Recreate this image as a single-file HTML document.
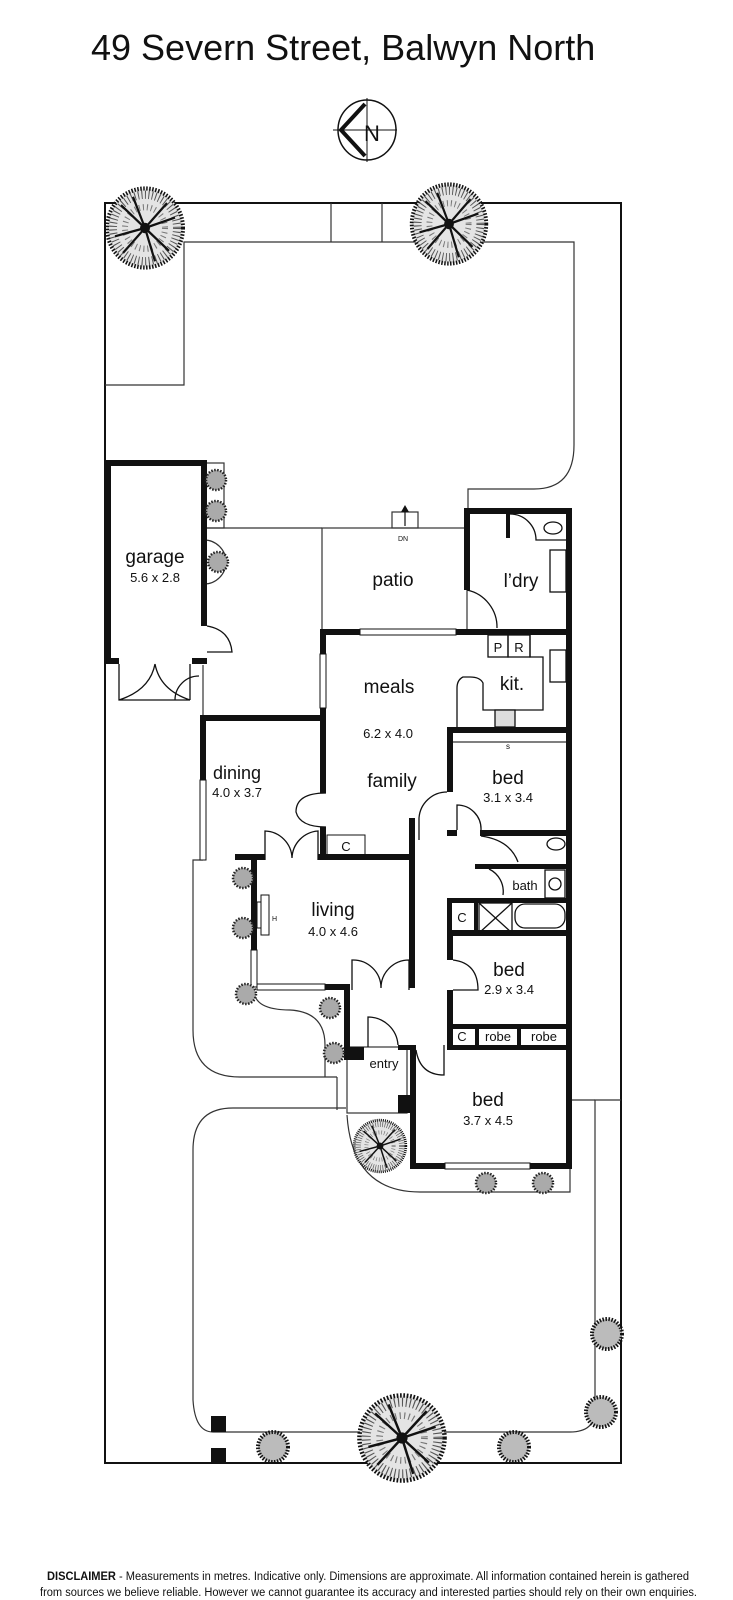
<!DOCTYPE html>
<html><head><meta charset="utf-8"><style>
html,body{margin:0;padding:0;background:#fff;}
svg{display:block;}
text{font-family:"Liberation Sans",Arial,sans-serif;fill:#111;}
</style></head><body>
<svg width="733" height="1600" viewBox="0 0 733 1600" xmlns="http://www.w3.org/2000/svg">
<defs>
<g id="tree">
  <circle r="38" fill="#e4e4e4" stroke="#111" stroke-width="4" stroke-dasharray="1.5 1.5"/>
  <circle r="32" fill="none" stroke="#555" stroke-width="8" stroke-dasharray="1 2.5"/>
  <circle r="20" fill="none" stroke="#777" stroke-width="6" stroke-dasharray="1 3"/>
  <g stroke="#111" stroke-width="2.2">
    <line x1="0" y1="0" x2="30" y2="-10"/><line x1="0" y1="0" x2="-30" y2="8"/>
    <line x1="0" y1="0" x2="10" y2="32"/><line x1="0" y1="0" x2="-12" y2="-30"/>
    <line x1="0" y1="0" x2="24" y2="22"/><line x1="0" y1="0" x2="-24" y2="-22"/>
    <line x1="0" y1="0" x2="-22" y2="24"/><line x1="0" y1="0" x2="22" y2="-24"/>
  </g>
  <circle r="5" fill="#111"/>
</g>
<g id="shrub">
  <circle r="10" fill="#aaa" stroke="#222" stroke-width="2.5" stroke-dasharray="1.5 1.5"/>
</g>
<g id="bush">
  <circle r="15" fill="#bbb" stroke="#111" stroke-width="4" stroke-dasharray="1.5 1.5"/>
</g>
</defs>

<text x="91" y="60" font-size="36">49 Severn Street, Balwyn North</text>

<!-- compass -->
<ellipse cx="367" cy="130" rx="29" ry="30" fill="none" stroke="#111" stroke-width="1.5"/>
<line x1="333" y1="130" x2="397" y2="130" stroke="#111" stroke-width="1"/>
<line x1="367" y1="98" x2="367" y2="162" stroke="#111" stroke-width="1"/>
<path d="M365,104 L341,130 L365,156" fill="none" stroke="#111" stroke-width="4"/>
<text x="364" y="141" font-size="22">N</text>

<!-- boundary -->
<rect x="105" y="203" width="516" height="1260" fill="none" stroke="#111" stroke-width="2"/>
<g fill="none" stroke="#333" stroke-width="1.2">
  <line x1="331" y1="203" x2="331" y2="242"/><line x1="382" y1="203" x2="382" y2="242"/>
  <path d="M105,385 L184,385 L184,242 L574,242 L574,445 Q574,489 534,489 L468,489 L468,511"/>
  <line x1="204" y1="528" x2="322" y2="528"/>
  <rect x="204" y="463" width="20" height="65"/>
  <path d="M204,540 A22,22 0 0 1 204,584"/>
  <line x1="203" y1="665" x2="203" y2="718"/>
  <rect x="322" y="528" width="145" height="104"/>
  <rect x="392" y="512" width="26" height="16"/>
  <path d="M203,860 L193,860 L193,1030 Q193,1077 240,1077 L337,1077"/>
  <path d="M254,990 Q254,1010 290,1010 Q325,1012 325,1045 L325,1077"/>
  <line x1="337" y1="1077" x2="337" y2="1110"/>
  <path d="M346,1108 L233,1108 Q193,1108 193,1150 L193,1400 Q195,1432 213,1432 L570,1432 Q595,1432 595,1410 L595,1100 L621,1100"/>
  <line x1="570" y1="1100" x2="595" y2="1100"/>
  <path d="M347,1115 Q352,1192 420,1192 L570,1192 L570,1169"/>
  <rect x="347" y="1047" width="60" height="66"/>
  <line x1="450" y1="742" x2="568" y2="742"/>
</g>
<!-- DN arrow -->
<line x1="405" y1="526" x2="405" y2="508" stroke="#111" stroke-width="1.2"/>
<path d="M401,512 L405,505 L409,512 Z" fill="#111"/>
<text x="398" y="541" font-size="7">DN</text>

<!-- thick walls -->
<g fill="#111">
  <rect x="105" y="460" width="102" height="6"/>
  <rect x="105" y="460" width="6" height="204"/>
  <rect x="201" y="460" width="6" height="166"/>
  <rect x="105" y="658" width="14" height="6"/>
  <rect x="192" y="658" width="15" height="6"/>
  <rect x="464" y="508" width="107" height="6"/>
  <rect x="464" y="508" width="6" height="82"/>
  <rect x="566" y="508" width="6" height="661"/>
  <rect x="464" y="629" width="107" height="6"/>
  <rect x="506" y="514" width="4" height="24"/>
  <rect x="320" y="629" width="40" height="6"/>
  <rect x="456" y="629" width="14" height="6"/>
  <rect x="320" y="629" width="6" height="25"/>
  <rect x="320" y="708" width="6" height="85"/>
  <rect x="320" y="827" width="6" height="33"/>
  <rect x="200" y="715" width="126" height="6"/>
  <rect x="200" y="715" width="6" height="65"/>
  <rect x="447" y="727" width="124" height="6"/>
  <rect x="447" y="727" width="6" height="65"/>
  <rect x="447" y="830" width="10" height="6"/>
  <rect x="480" y="830" width="91" height="6"/>
  <rect x="409" y="818" width="6" height="170"/>
  <rect x="235" y="854" width="30" height="6"/>
  <rect x="318" y="854" width="97" height="6"/>
  <rect x="251" y="854" width="6" height="96"/>
  <rect x="325" y="984" width="25" height="6"/>
  <rect x="344" y="984" width="6" height="76"/>
  <rect x="344" y="1047" width="20" height="13"/>
  <rect x="475" y="864" width="96" height="5"/>
  <rect x="447" y="898" width="124" height="5"/>
  <rect x="447" y="930" width="124" height="6"/>
  <rect x="447" y="898" width="5" height="36"/>
  <rect x="474" y="898" width="4" height="36"/>
  <rect x="447" y="933" width="6" height="27"/>
  <rect x="447" y="990" width="6" height="60"/>
  <rect x="447" y="1024" width="124" height="5"/>
  <rect x="447" y="1045" width="124" height="5"/>
  <rect x="475" y="1024" width="4" height="26"/>
  <rect x="517" y="1024" width="4" height="26"/>
  <rect x="398" y="1045" width="18" height="5"/>
  <rect x="410" y="1045" width="6" height="124"/>
  <rect x="398" y="1095" width="12" height="18"/>
  <rect x="410" y="1163" width="35" height="6"/>
  <rect x="530" y="1163" width="41" height="6"/>
</g>
<!-- windows -->
<g fill="#fff" stroke="#111" stroke-width="1">
  <rect x="360" y="629" width="96" height="6"/>
  <rect x="320" y="654" width="6" height="54"/>
  <rect x="200" y="780" width="6" height="80"/>
  <rect x="251" y="950" width="6" height="37"/>
  <rect x="257" y="984" width="68" height="6"/>
  <rect x="445" y="1163" width="85" height="6"/>
</g>
<!-- fittings -->
<g fill="none" stroke="#111" stroke-width="1.3">
  <rect x="488" y="635" width="20" height="22"/>
  <rect x="508" y="635" width="22" height="22"/>
  <path d="M530,635 L530,657 L543,657 L543,710 L483,710 L483,683 Q480,677 470,677 L463,677 Q457,680 457,688 L457,727"/>
  <rect x="495" y="710" width="20" height="17" fill="#ddd"/>
  <rect x="550" y="650" width="16" height="32"/>
  <rect x="550" y="550" width="16" height="42"/>
  <path d="M467,590 A38,38 0 0 1 497,628"/>
  <path d="M510,514 A26,26 0 0 1 536,540 L566,540"/>
  <ellipse cx="553" cy="528" rx="9" ry="6"/>
  <ellipse cx="556" cy="844" rx="9" ry="6"/>
  <rect x="515" y="904" width="50" height="24" rx="10"/>
  <rect x="479" y="903" width="33" height="30"/>
  <line x1="479" y1="903" x2="512" y2="933"/><line x1="512" y1="903" x2="479" y2="933"/>
  <rect x="545" y="870" width="20" height="28"/>
  <circle cx="555" cy="884" r="6"/>
  <path d="M119,700 Q150,690 155,664 M190,700 Q160,690 155,664 M119,664 L119,700 L190,700"/>
  <path d="M207,626 Q230,630 232,652 L207,652"/>
  <path d="M190,664 L190,700 M175,700 A24,24 0 0 1 199,676"/>
  <path d="M265,860 L265,831 A28,28 0 0 1 292,858 M318,860 L318,831 A28,28 0 0 0 292,858"/>
  <path d="M326,793 Q296,793 296,812 Q300,827 326,827"/>
  <path d="M352,990 L352,960 A28,28 0 0 1 381,988 M409,990 L409,960 A28,28 0 0 0 381,988"/>
  <path d="M447,792 A28,28 0 0 0 419,818 L419,840 M457,830 L457,805 A24,24 0 0 1 481,830 M481,836 Q510,840 518,862"/>
  <path d="M453,960 Q478,963 478,990 L453,990"/>
  <path d="M489,869 A25,25 0 0 1 503,895"/>
  <path d="M368,1047 L368,1017 A30,30 0 0 1 398,1045"/>
  <path d="M416,1050 Q420,1075 444,1075 L444,1045"/>
</g>
<g fill="none" stroke="#111" stroke-width="1">
  <rect x="261" y="895" width="8" height="40"/>
  <rect x="257" y="902" width="4" height="26"/>
  <rect x="327" y="835" width="38" height="22"/>
</g>
<text x="272" y="921" font-size="7">H</text>

<!-- trees -->
<use href="#tree" transform="translate(145,228) scale(1,1.04)"/>
<use href="#tree" transform="translate(449,224) scale(0.98,1.04)"/>
<use href="#tree" transform="translate(402,1438) scale(1.12,1.12)"/>
<use href="#tree" transform="translate(380,1146) scale(0.68,0.68)"/>
<use href="#shrub" x="216" y="480"/><use href="#shrub" x="216" y="511"/><use href="#shrub" x="218" y="562"/>
<use href="#shrub" x="243" y="878"/><use href="#shrub" x="243" y="928"/><use href="#shrub" x="246" y="994"/>
<use href="#shrub" x="330" y="1008"/><use href="#shrub" x="334" y="1053"/>
<use href="#shrub" x="486" y="1183"/><use href="#shrub" x="543" y="1183"/>
<use href="#bush" x="607" y="1334"/><use href="#bush" x="601" y="1412"/>
<use href="#bush" x="273" y="1447"/><use href="#bush" x="514" y="1447"/>
<rect x="211" y="1416" width="15" height="16" fill="#111"/>
<rect x="211" y="1448" width="15" height="15" fill="#111"/>

<!-- labels -->
<g text-anchor="middle">
<text x="155" y="563" font-size="19">garage</text>
<text x="155" y="582" font-size="13">5.6 x 2.8</text>
<text x="393" y="586" font-size="19">patio</text>
<text x="521" y="587" font-size="19">l’dry</text>
<text x="389" y="693" font-size="19">meals</text>
<text x="388" y="738" font-size="13">6.2 x 4.0</text>
<text x="392" y="787" font-size="19">family</text>
<text x="512" y="690" font-size="19">kit.</text>
<text x="498" y="652" font-size="13">P</text>
<text x="519" y="652" font-size="13">R</text>
<text x="508" y="749" font-size="8">s</text>
<text x="508" y="784" font-size="19">bed</text>
<text x="508" y="802" font-size="13">3.1 x 3.4</text>
<text x="525" y="890" font-size="13">bath</text>
<text x="462" y="922" font-size="13">C</text>
<text x="237" y="779" font-size="18">dining</text>
<text x="237" y="797" font-size="13">4.0 x 3.7</text>
<text x="346" y="851" font-size="13">C</text>
<text x="333" y="916" font-size="19">living</text>
<text x="333" y="936" font-size="13">4.0 x 4.6</text>
<text x="509" y="976" font-size="19">bed</text>
<text x="509" y="994" font-size="13">2.9 x 3.4</text>
<text x="462" y="1041" font-size="13">C</text>
<text x="498" y="1041" font-size="13">robe</text>
<text x="544" y="1041" font-size="13">robe</text>
<text x="384" y="1068" font-size="13">entry</text>
<text x="488" y="1106" font-size="19">bed</text>
<text x="488" y="1125" font-size="13">3.7 x 4.5</text>
</g>

<!-- disclaimer -->
<text x="47" y="1580" font-size="11.5" textLength="642" lengthAdjust="spacingAndGlyphs"><tspan font-weight="bold">DISCLAIMER</tspan> - Measurements in metres. Indicative only. Dimensions are approximate. All information contained herein is gathered</text>
<text x="40" y="1596" font-size="11.5" textLength="657" lengthAdjust="spacingAndGlyphs">from sources we believe reliable. However we cannot guarantee its accuracy and interested parties should rely on their own enquiries.</text>
</svg>
</body></html>
